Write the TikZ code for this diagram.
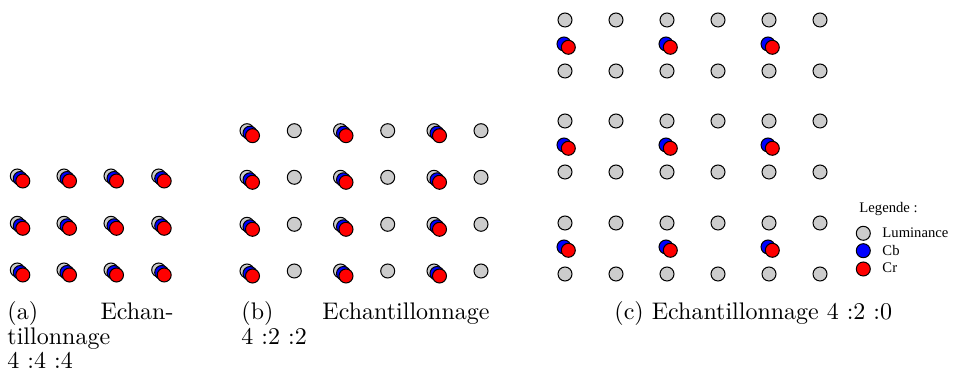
\documentclass[tikz,border=0pt]{standalone}
\usepackage{fontspec}
\newfontfamily\legfont{Liberation Serif}
\definecolor{lumgray}{HTML}{CCCCCC}
\definecolor{cbblue}{HTML}{0000FF}
\definecolor{crred}{HTML}{FF0000}
\begin{document}
\begin{tikzpicture}[x=0.41667pt,y=-0.41667pt,
  dot/.style={circle,draw=black,line width=0.42pt,inner sep=0pt,minimum size=5.83pt},
  lum/.style={dot,fill=lumgray},
  cb/.style={dot,fill=cbblue},
  cr/.style={dot,fill=crred},
  captext/.style={font=\fontsize{10}{12}\selectfont,inner sep=0pt},
  legtext/.style={font=\legfont\fontsize{6.1}{7}\selectfont,inner sep=0pt}]
\useasboundingbox (0,0) rectangle (954,382);
% Panel (a): 4:4:4
\foreach \c [count=\i] in {17.3,64,111,158.7}
  \foreach \r [count=\j] in {176,223.3,270} {
    \node[lum] (a-l-\i-\j) at (\c,\r) {};
    \node[cb]  (a-b-\i-\j) at ({\c+3},{\r+2.5}) {};
    \node[cr]  (a-r-\i-\j) at ({\c+5.5},{\r+5}) {};
  }
% Panel (b): 4:2:2
\foreach \r [count=\j] in {130.7,177.3,224.3,271} {
  \foreach \c [count=\i] in {247,340.5,434} {
    \node[lum] (b-l-\i-\j) at (\c,\r) {};
    \node[cb]  (b-b-\i-\j) at ({\c+3},{\r+2.5}) {};
    \node[cr]  (b-r-\i-\j) at ({\c+5.5},{\r+5}) {};
  }
  \foreach \c [count=\i] in {294.3,387.7,481}
    \node[lum] (b-p-\i-\j) at (\c,\r) {};
}
% Panel (c): 4:2:0
\foreach \r [count=\j] in {20,71,121,172,223,274}
  \foreach \c [count=\i] in {565,616,667,718,769,820}
    \node[lum] (c-l-\i-\j) at (\c,\r) {};
\foreach \m [count=\j] in {45.5,146.5,248.5}
  \foreach \c [count=\i] in {565,667,769} {
    \node[cb] (c-b-\i-\j) at ({\c-1},{\m-1.5}) {};
    \node[cr] (c-r-\i-\j) at ({\c+3.3},{\m+1.8}) {};
  }
% Legend
\node[legtext,anchor=base west] (legtitle) at (859,213) {Legende :};
\node[lum] (leg-l) at (863.3,233.3) {};
\node[cb]  (leg-b) at (863.3,250.7) {};
\node[cr]  (leg-r) at (863.3,269) {};
\node[legtext,anchor=base west] (leg-lt) at (882,237.3) {Luminance};
\node[legtext,anchor=base west] (leg-bt) at (882,255.7) {Cb};
\node[legtext,anchor=base west] (leg-rt) at (882,272.7) {Cr};
% Captions
\node[captext,anchor=base west] (capa1) at (7,320) {(a)};
\node[captext,anchor=base east] (capa2) at (174,320) {Echan-};
\node[captext,anchor=base west] (capa3) at (7,344.5) {tillonnage};
\node[captext,anchor=base west] (capa4) at (7,369) {4 :4 :4};
\node[captext,anchor=base west] (capb1) at (241,320) {(b)};
\node[captext,anchor=base east] (capb2) at (490,320) {Echantillonnage};
\node[captext,anchor=base west] (capb3) at (241,344.5) {4 :2 :2};
\node[captext,anchor=base west] (capc)  at (614,320) {(c) Echantillonnage 4 :2 :0};
\end{tikzpicture}
\end{document}
